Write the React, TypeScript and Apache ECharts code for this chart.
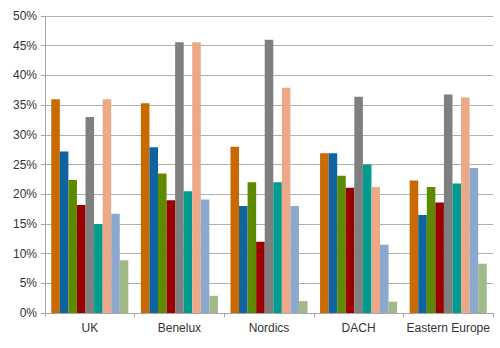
import React, { useEffect, useRef } from "react";
import * as echarts from "echarts";

const categories = ["UK", "Benelux", "Nordics", "DACH", "Eastern Europe"];
const s1 = [36.0, 35.3, 28.0, 26.9, 22.3];
const s2 = [27.2, 27.9, 18.0, 26.9, 16.5];
const s3 = [22.4, 23.5, 22.0, 23.1, 21.2];
const s4 = [18.2, 19.0, 12.0, 21.1, 18.6];
const s5 = [33.0, 45.6, 46.0, 36.4, 36.8];
const s6 = [15.0, 20.5, 22.0, 25.0, 21.8];
const s7 = [36.0, 45.6, 37.9, 21.2, 36.3];
const s8 = [16.7, 19.1, 18.0, 11.5, 24.4];
const s9 = [8.9, 2.9, 2.0, 1.9, 8.3];
const seriesData = [s1, s2, s3, s4, s5, s6, s7, s8, s9];
const colors = ["#C96A00", "#0F63A0", "#5E8A00", "#990000", "#7F7F7F", "#009A8E", "#EDA888", "#8BA9CD", "#A1B889"];

export default function App() {
  const ref = useRef<HTMLDivElement>(null);
  useEffect(() => {
    const chart = echarts.init(ref.current!, null, { renderer: "svg" });
    chart.setOption({
      animation: false,
      grid: { left: 45, right: 7, top: 16, bottom: 35 },
      xAxis: {
        type: "category",
        data: categories,
        axisLine: { lineStyle: { color: "#A6A6A6" } },
        axisTick: { show: true, length: 4, lineStyle: { color: "#A6A6A6" } },
        axisLabel: { interval: 0, color: "#333", fontSize: 12, fontFamily: "Liberation Sans, Arial", margin: 9 },
      },
      yAxis: {
        type: "value",
        min: 0,
        max: 50,
        interval: 5,
        axisLine: { show: true, lineStyle: { color: "#A6A6A6" } },
        axisTick: { show: true, length: 4, lineStyle: { color: "#A6A6A6" } },
        splitLine: { lineStyle: { color: "#AFAFAF" } },
        axisLabel: { color: "#333", fontSize: 12, fontFamily: "Liberation Sans, Arial", formatter: "{value}%", margin: 8 },
      },
      series: seriesData.map((d, i) => ({
        type: "bar",
        data: d,
        barGap: "0%",
        barCategoryGap: "14%",
        itemStyle: { color: colors[i] },
      })),
    });
    return () => chart.dispose();
  }, []);
  return <div ref={ref} style={{ width: 500, height: 348, position: "absolute", left: 0, top: 0 }} />;
}
